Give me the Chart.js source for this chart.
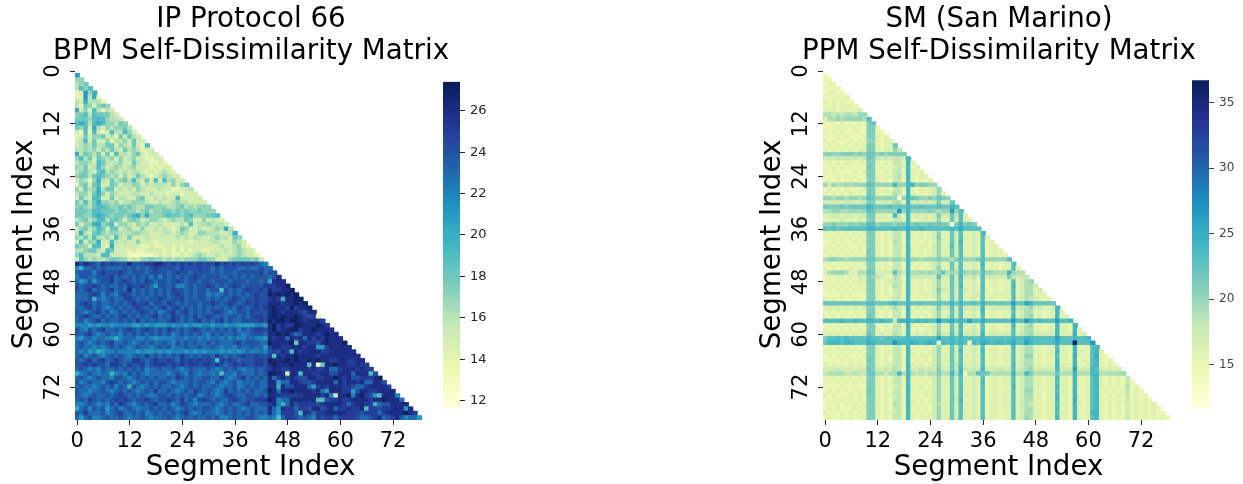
<!DOCTYPE html>
<html>
<head>
<meta charset="utf-8">
<title>Self-Dissimilarity Matrices</title>
<script src="https://cdn.jsdelivr.net/npm/chart.js@4"></script>
<style>
    html, body { margin: 0; padding: 0; background: #fff; overflow: hidden; }
    canvas { position: absolute; }
</style>
</head>
<body>
<canvas id="bpmMatrix" style="left:11px;top:0"></canvas>
<canvas id="ppmMatrix" style="left:759px;top:0"></canvas>
<canvas id="bpmBar" style="left:443px;top:69px"></canvas>
<canvas id="ppmBar" style="left:1192px;top:68px"></canvas>
<script>
// one string per matrix row, row 1 has 1 cell, row 2 has 2 cells...
// each char is a value in base 36, counted up from 12
const bpmRows = [
    '9', '55', '456', '4757', '23958', '229481', '4384442', '42653565', '835374243', '5674766643',
    '66657775443', '787478755465', '6573843545564', '31727323744753', '236355634263643', '3473633524453633',
    '34546446635436327', '445453546436454233', '8465463637443563233', '57463654535345332233',
    '455437643453364332232', '5463475345434533323233', '45643674543434432323432', '566467654535346432345433',
    '3542584364564743637374533', '25636733653445534344435356', '536458466343435433343322334', '4553685354333443343332332333',
    '36437733634433563343433733333', '647468554534455543343345443333',
    '5654677655656544665554456454555',
    '6665776665 6655456455 6656565565 55',
    '6655787656 6567858555 6766567555 667',
    '4564577466 5356534554 3454465335 3433',
    '6355885673 5543545334 3333437344 54443',
    '3564576366 3453353343 4323653343 345484',
    '4843675455 4445544333 4434543355 4443348',
    '5464744537 4363334333 3334343443 34544365',
    '3735583374 3433533323 3333332333 344333543',
    '6553773283 3333322322 3323233333 3334334532',
    '4456643763 3323223333 2323232332 2333434543 3',
    '5744437733 3311111123 2322323454 3343334543 32',
    '3754544566 5534355655 4545455566 5533356666 563',
    'ecedcbdcdc ccecccddee dcdcdcdcdc dcecdcdcdc dcba',
    'a8bbcbcbbb bcbcbcbcdc cccbdcccdc cbcbcccbbc bbcbb',
    'bcccacdccc dcbcccbccc cbcdccbccc cbcbccbccc ccdbcc',
    'accbbcccdb cbcbcbcaca cbcbcbcdcb cccbbcbcbc bcccbce',
    'b9ac9bccdb cdcbcbdcbc cbcdcbccbc cbcccbcccb ccbc8eee',
    'cbccdcbcbb cbdccdcb9c cbcaabcbcc dcbcbcdcbc cccdddeef',
    'cbcdbcbcdb cbebcbcbcb cbdccbcbcc bcc7cbcbcd ccdceddeef',
    'bbbcdcacba cdcbcbcbcb cbcdcbcbcc ababcbcbcb cdccfefefe f',
    'bbbc8babcb bcdcbcbccd cbccdbcbcc bcbcbcdcbc cdccded8ee ff',
    'bcdcbcbbcb cbcdccdbcc bdcbcbccbc cdcbcdcbcd cdcceeedee fef',
    'bbcdbcbabc bcbcdcbcbc dbcdbcbcbc bcbcbcbdcb cdcdefeedf deef',
    'cbabcdbcab cbcbcdcbca bcdbcdbcbc bcdcbabccb dcccefedee edcee',
    'bcdcbbcbcb cdbcbcbcdb cbdcbcbdbc dcbcbccbcb cddcefefee fedcd2',
    'bcabcdbcbb cbcbdbcbcb bcdcbcbcdb cbcdbcbbcc ccdcfeffef fedeeed',
    'aaa9a9aa9a aaa99a9a99 9a9aa9a99a a9aa9aa999 9aa9efdedd ffeeefed',
    'cbacbcdbbc bcdcbcdcbc bdcbcbcdcb cbcbcbcacb cddcefdeef fdeefeeee',
    'cbcdbabcbb acbcbcbcbc bcabcbcbcb acbcbbcbab cccbeefefd bceeedefee',
    'a9bbabbaa8 abbbaaba9a aaabbabbab abbababaab baa9edeebe debededfee e',
    'bcbabcbcdb bcbabcbcbb cbacbcbcbb cbcbbbcdbc ccbbfeeeef 6eeddcefee ef',
    'bcbbababcb cbabcbbabc bcabbcbbcb bcbabbacbb cbb9deedde eedee99dee eee',
    'bab9a89aab aaaa9a99a9 a9aaa9a9a9 aaa9a9a9ab aabacdced7 edeeeeddee eeee',
    'bcabcbabcb cbabcbdbcb cbcbdcbcbc cbdcbcbcdc cdccd7edee feeeedeeee eeeee',
    'cbcdbcdbcd cbbddcbcdc cdcbdcdcdc dc7dcdcbcc cddcfeeefe feefefeedd eeddee',
    'ccdcdccbdd cbdccdbcdd dcdcdcddcd dcdcbcdcdc cddcefeeef eee7e26eef eeddedd',
    'bcbabacbbc bcbcbcabbc bbcbabcbbb cbabcbcbab bcbcdeedde eeededdebb deeededd',
    '8abcbabb8a bacbcbabbb babcbacbab bab7bbacbb bcbcffee3e e7eeddeecc eeebeee7c',
    'bcbabcbbac cbabcbcbcb bcbdcbcbbc cbbdbabcdb cbcbebdece dcceeddeef edeccdddef',
    'cabcbbacdc bcbabcbcbc cbabbbcbcc bacbabcabb bcbbee9bbe edccdeeeeb edeedebbee c',
    'bcbbabcbca cb8cbabcbc bbcbabcbcb bcbabbcabc bcbbee8ecc eeeb9dedee eddcbbdeee ed',
    'cbbabbcbab cbcbabcbdb bcbabcbdcb cbabdbcbcb cbbcfebeef eeeedeb9ee edd9ceedde eee',
    'cbabcbbcbc dcbcbcbabc cbcbcbccab cbabcdcbbc cbcbeedddd ddeeeedea3 eefaefdc97 eeea',
    'bcbdcbcbcd cdcbccdcbc cdcbdbcacd cbcbbcdcbc cdddfeabbe eeeee77cdd eddeeeedee feeeb',
    'aabcbabacb dcbabcbcdb bcabdcbabb bcbabcbbcd bbccdea8be cddddcdeee edbdeedd8b cceeee',
    '8bcacbc9bc abcbabbcbc bcbabcbcbc cbabcbcbab cbbbeb9edd bddceecdeb ddedde7ddc ddeee9e',
    'cbdbbbcabc dbbcbcabcb cbcbcdbabc bbabcbcbcb cbcbeb9ddd c7edbddeee eedddcdddb deeeefed',
    'b9bcaabcbb cbabbcbabb bcbabcbcbb cbcaabcbbc cbaaba7bdd cbcbadcddb ddddcbbcde bcdecabb9'
];
const ppmRows = [
    '3', '33', '343', '3333', '34433', '333434', '4343433', '33434443', '444344344', '7767677688',
    '4778788887 b',
    '3343434343 9a',
    '3334433433 993',
    '4343433433 9943',
    '3334343334 99434',
    '4343334343 884344',
    '3434343434 994344a',
    '4343434344 99434486',
    '8988999898 aa8989999',
    '5556565656 a965656 65c',
    '3434343334 994343663c 4',
    '3343434343 a93434564c 34',
    '4343333434 994343663c 434',
    '3334343433 994344673c 4344',
    '3434334343 994343663c 43434',
    '8587787888 ba8888c88c c89988',
    '3434343334 994343663c 4343458',
    '4343434343 a94344763c 43434584',
    '8878878878 ba8888808c a98898a98',
    '5555565556 995565773c 565656955a',
    'a999a9aaaa cbaaabaaac aabaaabaac b',
    '7788778878 ba88888f8c 888898788e 8b',
    '4555455455 994444c63c 454545955a 6b4',
    '4444544454 994444664c 444545844a 5b44',
    '8898889899 bb899989 9c 9a99a9a990 9c9a9',
    'bababbbbbb ccbbbbcbbd bbcbbbbbbc bdbbbb',
    '3434343434 994343663c 434345844a 5b4454c',
    '4343434343 994344663c 434345944a 5b4454b4',
    '3343433434 994343763c 343434844a 5c4454b34',
    '3434343343 994343663c 434435844b 5b4454b344',
    '4343434343 a94343663c 434345844a 5b4454b344 4',
    '3434343434 994343663c 434345844a 5b4454b344 34',
    '7898878888 aa8887887c 8878889887 9b8889b888 88b',
    '3434343434 994343663c 434345744a 5b4454c344 344b',
    '4343434343 994344663c 343435844a 5b4454b344 344b4',
    '4788874477 aa5555b75c 7787878a78 7b8787b887 77c877',
    '3434434354 986543763c 555555b55a 5c5565b565 5596566',
    '3434343444 994345663c 434345844a 5b4453b344 344b4578',
    '4343434343 994344763c 434345844a 5c4454b344 344c45775',
    '3434343434 994343663c 434345955a 5b5454b434 344b457745',
    '3333434333 994343563c 434445844a 5b4455b344 444b457744 4',
    '4343433433 994334663c 343434844a 5b4454b344 344b457654 34',
    'aaaaaaaaaa bbaaabcaac aabaaabaac acaabacaaa aaaeaaecaa aaa',
    '4545454545 994545764c 454545955b 5b5565c455 555c567855 445c',
    '3434343434 994343663c 434345844a 5b4454c344 344b457744 344c4',
    '4343433343 a94343663c 343435845b 5b4454b344 344c457844 344c44',
    'bbbbcbbcbb ccbcbb6ccd bcbcbbfbcd bcbebbdbbb bbbebbfcbc bbbebbc',
    '3434343434 994343663c 434345844a 5c4454b344 344c457844 344c443c',
    '4343434343 994344663c 343445844a 5b4454b344 344b457744 344c443c4',
    '4545454545 a94545764c 454545955b 6c5565c455 555b567855 555c444d45',
    '9bbcbcbbbb cbbabbbbbc bbbbbbebbc bcbbbbcbbb bbbcbbdcbb bbbebbbcbb c',
    'acccbccbbb dcbbbbfccc dcbcdc2cbc bcb2cbdcbc cbcdbbecbb bbbdbbbpbb bf',
    '3434343434 994343663c 343435844a 5b4454b344 344c457744 344b443c43 4bc',
    '4343434343 994344663c 434345844a 5c4454c344 344b457744 344c443c44 3bc4',
    '3434343334 994343663c 434445844a 5b4454b344 344b458844 344b443d43 4bd43',
    '3333434343 a94343663c 343435844a 5b4454b344 344b457744 343c443c34 4bc434',
    '4343334343 994344663c 434345844a 6b4454b344 344c457744 344c443c43 4bc4343',
    '5556555555 a95565763c 556565955a 6c6565c556 655b567855 555c555e55 5cb54545',
    '6777766766 aa77677c7c 767677977c 7c277baa77 777c77c977 777a777c77 7cc777778',
    '4343434343 994343663c 434345844a 5b4454b344 344b457744 344c443c43 4bc4343436',
    '3434343434 994344663c 343435844a 5b4454c344 344b457744 344b443c43 4bc4343436 3',
    '3333433433 994343563c 434345844a 5b4454b344 344c457744 344c443c43 4bc4343437 34',
    '3434343343 a94343663c 434445844a 5b4454b344 344b458844 344b443c34 4bc3434346 343',
    '4343334343 994344663c 343435844a 5b4454b344 344b457744 344c443c43 4bc4343436 3434',
    '3343434343 994343663c 434345844a 5c4454b344 344b457744 344c443d43 4bc4343436 34343',
    '3434343434 994343763c 434345744a 5b4454b344 344b467644 344b443c43 4bc4343435 343434',
    '3434333434 994343663c 343435844a 5b4454b344 344b457744 344c443c43 4bc4343435 3434343',
    '4343434343 994344663c 434345844a 5b4454b344 344b457744 344b443c43 4cc4343435 34343433',
    '3433434334 994343663c 434445844a 5b4454b344 344b458744 344c443c43 4bc4343436 343434343'
];
const segmentTicks = [0, 12, 24, 36, 48, 60, 72];
const bpmBarTicks = [12, 14, 16, 18, 20, 22, 24, 26];
const ppmBarTicks = [15, 20, 25, 30, 35];
const bpmRange = [11.63, 27.4];
const ppmRange = [11.65, 36.7];
const ylGnBu = ['#ffffd9', '#edf8b1', '#c7e9b4', '#7fcdbb', '#41b6c4', '#1d91c0', '#225ea8', '#253494', '#081d58'];

const FONT = '"DejaVu Sans"';

function hexToRgb(h) {
    return [1, 3, 5].map(i => parseInt(h.substr(i, 2), 16));
}

function colorFor(v, range) {
    let t = (v - range[0]) / (range[1] - range[0]);
    t = Math.min(Math.max(t, 0), 1) * (ylGnBu.length - 1);
    const i = Math.min(Math.floor(t), ylGnBu.length - 2);
    const a = hexToRgb(ylGnBu[i]);
    const b = hexToRgb(ylGnBu[i + 1]);
    const c = a.map((x, k) => Math.round(x + (b[k] - x) * (t - i)));
    return `rgb(${c[0]},${c[1]},${c[2]})`;
}

function rowsToCells(rows) {
    const cells = [];
    rows.forEach((row, r) => {
        row.replace(/ /g, '').split('').forEach((ch, col) => {
            cells.push({x: col, y: r + 1, v: parseInt(ch, 36) + 12});
        });
    });
    return cells;
}

function fixedTicks(values) {
    return scale => { scale.ticks = values.map(v => ({value: v})); };
}

function drawMatrix(id, rows, range, titleLines) {
    const canvas = document.getElementById(id);
    canvas.width = 480;
    canvas.height = 484;
    const cells = rowsToCells(rows);
    new Chart(canvas, {
        type: 'scatter',
        data: {
            datasets: [{
                data: cells,
                pointStyle: 'rect',
                pointRadius: 3.75,
                pointBorderWidth: 0,
                pointBackgroundColor: cells.map(c => colorFor(c.v, range))
            }]
        },
        options: {
            responsive: false,
            animation: false,
            events: [],
            layout: {autoPadding: false},
            plugins: {
                legend: {display: false},
                tooltip: {enabled: false},
                title: {
                    display: true,
                    text: titleLines,
                    color: '#000',
                    font: {family: FONT, size: 27.7, weight: 'normal', lineHeight: '32px'},
                    padding: {top: 4, bottom: 1}
                }
            },
            scales: {
                x: {
                    type: 'linear',
                    min: -0.5,
                    max: 79.5,
                    afterBuildTicks: fixedTicks(segmentTicks),
                    afterFit: s => { s.height = 64; },
                    grid: {drawOnChartArea: false, tickLength: 5, tickColor: '#262626'},
                    border: {display: false},
                    ticks: {autoSkip: false, maxRotation: 0, minRotation: 0, padding: 4, color: '#000', font: {family: FONT, size: 21}},
                    title: {display: true, text: 'Segment Index', color: '#000', font: {family: FONT, size: 27.7, lineHeight: 1}, padding: {top: 0, bottom: 2}}
                },
                y: {
                    type: 'linear',
                    reverse: true,
                    min: -0.5,
                    max: 79.5,
                    afterBuildTicks: fixedTicks(segmentTicks),
                    afterFit: s => { s.width = 64; },
                    grid: {drawOnChartArea: false, tickLength: 5, tickColor: '#262626'},
                    border: {display: false},
                    ticks: {autoSkip: false, minRotation: 90, maxRotation: 90, crossAlign: 'center', padding: 3, color: '#000', font: {family: FONT, size: 21}},
                    title: {display: true, text: 'Segment Index', color: '#000', font: {family: FONT, size: 27.7, lineHeight: 1}, padding: 0}
                },
                // empty axis on the right keeps the title centred over the matrix
                spacer: {
                    position: 'right',
                    afterFit: s => { s.width = 65; },
                    grid: {display: false},
                    border: {display: false},
                    ticks: {display: false}
                }
            }
        }
    });
}

function drawBar(id, range, tickValues, labelColor, labelSize, height) {
    const canvas = document.getElementById(id);
    canvas.width = 51;
    canvas.height = height;
    new Chart(canvas, {
        type: 'bar',
        data: {
            labels: [''],
            datasets: [{
                data: [range],
                barPercentage: 1,
                categoryPercentage: 1,
                backgroundColor: ctx => {
                    const area = ctx.chart.chartArea;
                    if (!area) return ylGnBu[4];
                    const g = ctx.chart.ctx.createLinearGradient(0, area.bottom, 0, area.top);
                    ylGnBu.forEach((c, i) => g.addColorStop(i / (ylGnBu.length - 1), c));
                    return g;
                }
            }]
        },
        options: {
            responsive: false,
            animation: false,
            events: [],
            layout: {autoPadding: false},
            plugins: {legend: {display: false}, tooltip: {enabled: false}},
            scales: {
                x: {display: false},
                y: {
                    position: 'right',
                    min: range[0],
                    max: range[1],
                    afterBuildTicks: fixedTicks(tickValues),
                    afterFit: s => { s.width = 34; },
                    grid: {drawOnChartArea: false, tickLength: 5, tickColor: labelColor},
                    border: {display: false},
                    ticks: {autoSkip: false, padding: 5, color: labelColor, font: {family: FONT, size: labelSize}}
                }
            }
        }
    });
}

drawMatrix('bpmMatrix', bpmRows, bpmRange, ['IP Protocol 66', 'BPM Self-Dissimilarity Matrix']);
drawMatrix('ppmMatrix', ppmRows, ppmRange, ['SM (San Marino)', 'PPM Self-Dissimilarity Matrix']);
drawBar('bpmBar', bpmRange, bpmBarTicks, '#262626', 13, 352);
drawBar('ppmBar', ppmRange, ppmBarTicks, '#444', 12, 353);
</script>
</body>
</html>
